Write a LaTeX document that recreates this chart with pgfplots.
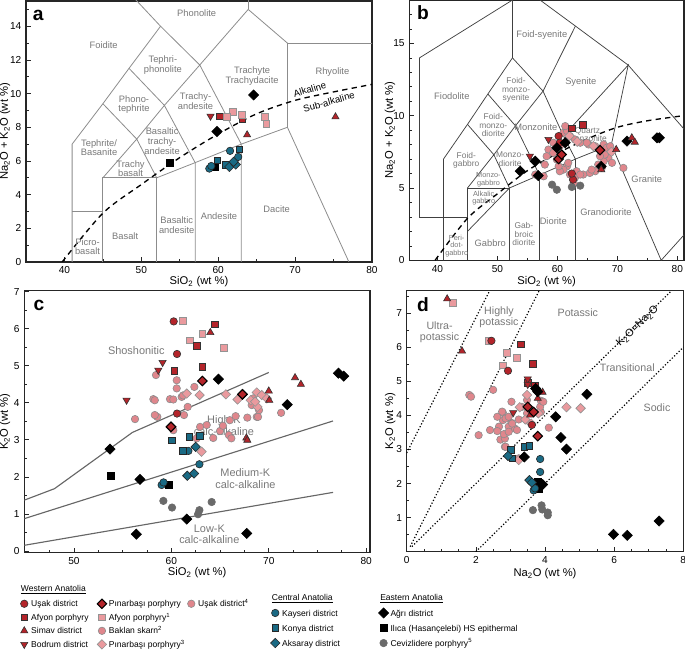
\documentclass[border=0pt]{standalone}
\usepackage{fontspec}
\setmainfont{Liberation Sans}
\usepackage{pgfplots}
\pgfplotsset{compat=1.18}

\definecolor{dred}{RGB}{180,36,42}
\definecolor{pinkc}{RGB}{224,134,140}
\definecolor{pinkl}{RGB}{234,154,158}
\definecolor{tealc}{RGB}{26,106,132}
\definecolor{grayc}{RGB}{106,106,106}
\definecolor{ftxt}{RGB}{120,120,120}

% marker styles (tikz namespace, so legends can use them too)
\tikzset{
  usak/.style={only marks, mark=*, mark size=2.8pt, mark options={solid, line width=0.45pt, draw=black!80, fill=dred}},
  afyon/.style={only marks, mark=square*, mark size=2.5pt, mark options={solid, line width=0.45pt, draw=black!80, fill=dred}},
  simav/.style={only marks, mark=triangle*, mark size=3.1pt, mark options={solid, line width=0.45pt, draw=black!80, fill=dred}},
  bodrum/.style={only marks, mark=triangle*, mark size=3.1pt, mark options={solid, rotate=180, line width=0.45pt, draw=black!80, fill=dred}},
  pinar/.style={only marks, mark=square*, mark size=2.5pt, mark options={solid, rotate=45, line width=0.8pt, draw=black, fill=dred}},
  afyonb/.style={only marks, mark=square*, mark size=2.5pt, mark options={solid, line width=0.45pt, draw=gray!85, fill=pinkl}},
  baklan/.style={only marks, mark=*, mark size=2.8pt, mark options={solid, line width=0.45pt, draw=gray!90, fill=pinkc}},
  pinarb/.style={only marks, mark=square*, mark size=2.5pt, mark options={solid, rotate=45, line width=0.45pt, draw=gray!85, fill=pinkl}},
  usakd/.style={only marks, mark=*, mark size=2.8pt, mark options={solid, line width=0.45pt, draw=gray!90, fill=pinkc}},
  kayseri/.style={only marks, mark=*, mark size=2.8pt, mark options={solid, line width=0.45pt, draw=black!85, fill=tealc}},
  konya/.style={only marks, mark=square*, mark size=2.5pt, mark options={solid, line width=0.45pt, draw=black!85, fill=tealc}},
  aksaray/.style={only marks, mark=square*, mark size=2.5pt, mark options={solid, rotate=45, line width=0.45pt, draw=black!85, fill=tealc}},
  agri/.style={only marks, mark=square*, mark size=2.7pt, mark options={solid, rotate=45, line width=0.45pt, draw=black, fill=black}},
  ilica/.style={only marks, mark=square*, mark size=2.5pt, mark options={solid, line width=0.45pt, draw=black, fill=black}},
  cevi/.style={only marks, mark=*, mark size=2.8pt, mark options={solid, line width=0.45pt, draw=grayc, fill=grayc}},
  fl/.style={font=\fontsize{7}{7.2}\selectfont, text=ftxt, align=center, inner sep=0pt},
  fls/.style={font=\fontsize{6.3}{6.4}\selectfont, text=ftxt, align=center, inner sep=0pt},
  flc/.style={font=\fontsize{8.2}{8.8}\selectfont, text=ftxt, align=center, inner sep=0pt},
  plet/.style={font=\bfseries\fontsize{14.4}{14.4}\selectfont, inner sep=0pt},
}

\pgfplotsset{
  panel/.style={scale only axis, anchor=south west, tick pos=left, tick align=inside,
    axis line style={line width=1.1pt, black!85},
    every tick/.style={black!85, line width=0.5pt},
    major tick length=3.5pt, minor tick length=2pt,
    tick label style={font=\fontsize{7.6}{9}\selectfont},
    every axis x label/.append style={font=\fontsize{8.4}{10}\selectfont},
    every axis y label/.append style={font=\fontsize{8.4}{10}\selectfont},
    /pgf/number format/assume math mode=true},
  fline/.style={no marks, line width=0.6pt, color=black!45},
  bline/.style={no marks, line width=0.55pt, color=black!75},
  cline/.style={no marks, line width=0.85pt, color=black!60},
  dline/.style={no marks, line width=0.9pt, color=black, dash pattern=on 0.9pt off 1.5pt},
  aline/.style={no marks, smooth, line width=1pt, color=black, dash pattern=on 4pt off 3.2pt},
  legax/.style={at={(0pt,0pt)}, anchor=south west, scale only axis, width=513.75pt, height=487.5pt,
    hide axis, xmin=0, xmax=685, ymin=0, ymax=650,
    legend cell align=left,
    legend style={anchor=north west, draw=none, fill=none, inner sep=0pt, outer sep=0pt,
      row sep=0pt, column sep=0pt, font=\fontsize{6.4}{7}\selectfont,
      nodes={inner ysep=0pt, inner xsep=0.5pt, text height=4.6pt, text depth=0pt}}},
  legimg/.style={legend image code/.code={\path (-4.5pt,-#1) (4.5pt,#1); \draw[##1] plot coordinates {(0pt,0pt)};}},
}

\begin{document}
\begin{tikzpicture}
\useasboundingbox (0pt,0pt) rectangle (513.75pt,487.5pt);

% ---------------- panel a: TAS volcanic ----------------
\begin{axis}[panel, at={(19.5pt,291pt)}, width=259.5pt, height=195.75pt,
  xmin=35, xmax=80, ymin=0, ymax=15.5,
  xtick={40,50,...,80}, minor xtick={45,55,65,75},
  ytick={0,2,...,14}, minor ytick={1,3,...,15},
  xlabel={SiO\textsubscript{2} (wt \%)},
  ylabel={Na\textsubscript{2}O + K\textsubscript{2}O (wt \%)},
  xlabel style={at={(axis description cs:0.5,-0.0755)}, anchor=center},
  ylabel style={at={(axis description cs:-0.0607,0.5)}, anchor=center}]
\addplot[fline] coordinates {(41,0) (41,7) (45,9.4) (48.4,11.5) (52.5,14) (48.4,16)};
\addplot[fline] coordinates {(41,3) (45,3)};
\addplot[fline] coordinates {(45,0) (45,5) (52,5) (52,0)};
\addplot[fline] coordinates {(45,5) (49.4,7.3) (52,5)};
\addplot[fline] coordinates {(45,9.4) (49.4,7.3) (53,9.3) (57,5.9) (57,0)};
\addplot[fline] coordinates {(48.4,11.5) (53,9.3) (57.6,11.7) (63,7) (63,0)};
\addplot[fline] coordinates {(52,5) (57,5.9) (63,7) (69,8) (77,0)};
\addplot[fline] coordinates {(52.5,14) (57.6,11.7) (63.9,15) (69,13) (69,8)};
\addplot[fline] coordinates {(63.9,15) (63.9,16)};
\addplot[fline] coordinates {(69,13) (80,13)};
\addplot[aline] coordinates {(39.7,0) (45,2.9) (50,4.6) (55,6.2) (60,7.6) (65,8.8) (70,9.6) (75,10.1) (80,10.55)};

\node[fl] at (axis cs:57.2,14.76) {Phonolite};
\node[fl] at (axis cs:45.1,12.9) {Foidite};
\node[fl] at (axis cs:52.8,11.7) {Tephri-\\phonolite};
\node[fl] at (axis cs:49.05,9.35) {Phono-\\tephrite};
\node[fl] at (axis cs:44.5,6.8) {Tephrite/\\Basanite};
\node[fl] at (axis cs:52.7,7.17) {Basaltic\\trachy-\\andesite};
\node[fl] at (axis cs:57.05,9.55) {Trachy-\\andesite};
\node[fl] at (axis cs:64.4,11.03) {Trachyte\\Trachydacite};
\node[fl] at (axis cs:74.85,11.3) {Rhyolite};
\node[fl] at (axis cs:48.6,5.55) {Trachy\\basalt};
\node[fl] at (axis cs:47.9,1.56) {Basalt};
\node[fl] at (axis cs:54.6,2.2) {Basaltic\\andesite};
\node[fl] at (axis cs:60.1,2.73) {Andesite};
\node[fl] at (axis cs:67.6,3.15) {Dacite};
\node[fl] at (axis cs:43.0,0.9) {Picro-\\basalt};
\node[font=\fontsize{7.2}{8}\selectfont, rotate=16, inner sep=0pt] at (axis cs:71.9,10.25) {Alkaline};
\node[font=\fontsize{7.2}{8}\selectfont, rotate=16, inner sep=0pt] at (axis cs:74.4,9.5) {Sub-alkaline};

\addplot[afyon] coordinates {(60.23,8.66) (63.15,8.52)};
\addplot[afyonb] coordinates {(61.9,8.9) (61.1,8.62) (63.1,8.75) (66.1,8.62) (66.24,8.22)};
\addplot[bodrum] coordinates {(59.0,8.66)};
\addplot[simav] coordinates {(63.76,7.55) (75.25,8.62)};
\addplot[ilica] coordinates {(53.67,5.88) (59.6,5.65)};
\addplot[kayseri] coordinates {(61.54,6.6) (62.6,6.24) (58.84,5.55) (59.1,5.7)};
\addplot[konya] coordinates {(62.75,6.7) (59.9,6.04) (61.0,5.79)};
\addplot[aksaray] coordinates {(61.45,5.65) (62.28,5.79) (62.0,5.95)};
\addplot[agri] coordinates {(64.6,9.92) (59.84,7.75)};
\node[plet] at (rel axis cs:0.035,0.946) {a};
\end{axis}

% ---------------- panel b: TAS plutonic ----------------
\begin{axis}[panel, at={(306.975pt,292.275pt)}, width=206pt, height=195.2pt,
  xmin=35.3, xmax=81.1, ymin=0, ymax=18,
  xtick={40,50,...,80}, minor xtick={45,55,65,75},
  ytick={0,5,10,15}, minor ytick={1,...,18},
  xlabel={SiO\textsubscript{2} (wt \%)},
  ylabel={Na\textsubscript{2}O + K\textsubscript{2}O (wt \%)},
  xlabel style={at={(axis description cs:0.5,-0.082)}, anchor=center},
  ylabel style={at={(axis description cs:-0.070,0.5)}, anchor=center}]
\addplot[bline] coordinates {(37,3) (37,14) (52.5,18)};
\addplot[bline] coordinates {(37,3) (45,3)};
\addplot[bline] coordinates {(41,0) (41,7) (45,9.4) (48.4,11.5) (52.5,14) (52.5,18)};
\addplot[bline] coordinates {(45,0) (45,5) (52,5) (52,0)};
\addplot[bline] coordinates {(45,2) (52,5)};
\addplot[bline] coordinates {(45,5) (49.4,7.3) (52,5)};
\addplot[bline] coordinates {(45,9.4) (49.4,7.3) (53,9.3) (57,5.9) (57,0)};
\addplot[bline] coordinates {(48.4,11.5) (53,9.3) (57.6,11.7) (52.5,14)};
\addplot[bline] coordinates {(57.6,11.7) (63,16.2)};
\addplot[bline] coordinates {(85.9,6.8) (71.8,13.5) (63,16.2) (57.1,18)};
\addplot[bline] coordinates {(57.6,11.7) (61,8.6) (63,7) (63,0)};
\addplot[bline] coordinates {(61,8.6) (71.8,13.5) (69,8)};
\addplot[bline] coordinates {(52,5) (57,5.9) (63,7) (69,8) (77.3,0) (87.5,4.7)};
\addplot[aline] coordinates {(39.6,0) (45,2.9) (50,4.6) (55,6.2) (60,7.4) (65,8.4) (70,9.2) (75,9.65) (81,10.0)};

\node[fl] at (axis cs:57.4,15.58) {Foid-syenite};
\node[fl] at (axis cs:42.4,11.37) {Fiodolite};
\node[fls] at (axis cs:53.1,11.76) {Foid-\\monzo-\\syenite};
\node[fl] at (axis cs:63.9,12.34) {Syenite};
\node[fls] at (axis cs:49.3,9.33) {Foid-\\monzo-\\diorite};
\node[fl] at (axis cs:56.4,9.21) {Monzonite};
\node[fls] at (axis cs:65.0,8.7) {Quartz\\monzonite};
\node[fls] at (axis cs:44.8,6.9) {Foid-\\gabbro};
\node[fls] at (axis cs:52.1,7.01) {Monzo-\\diorite};
\node[font=\fontsize{5.5}{5.8}\selectfont, text=ftxt, align=center, inner sep=0pt] at (axis cs:48.5,5.56) {Monzo-\\gabbro};
\node[font=\fontsize{5.5}{5.8}\selectfont, text=ftxt, align=center, inner sep=0pt] at (axis cs:47.7,4.3) {Alkalic\\gabbro};
\node[font=\fontsize{5.5}{5.8}\selectfont, text=ftxt, align=center, inner sep=0pt] at (axis cs:43.2,1.0) {Peri-\\dot-\\gabbro};
\node[fl] at (axis cs:48.8,1.18) {Gabbro};
\node[fls] at (axis cs:54.4,1.8) {Gab-\\broic\\diorite};
\node[fl] at (axis cs:59.3,2.69) {Diorite};
\node[fl] at (axis cs:68.1,3.31) {Granodiorite};
\node[fl] at (axis cs:74.9,5.58) {Granite};

\addplot[usakd] coordinates {(58.5,7.66) (58.2,7.2) (57.9,6.62) (56.3,5.93) (61.0,8.82) (61.6,8.94)
  (60.4,7.89) (59.3,7.43) (62.1,8.59) (62.9,8.36) (63.8,8.13) (65.2,8.01) (66.3,7.89) (67.7,8.01)
  (68.2,7.78) (68.8,7.43) (68.5,7.08) (67.7,6.85) (66.8,6.62) (67.4,6.39) (66.3,6.16) (65.4,6.04)
  (64.3,5.93) (63.2,6.16) (62.9,5.69) (62.7,5.35) (61.6,6.5) (61.0,6.27) (60.4,6.16) (60.2,6.5)
  (61.8,6.74) (62.1,5.93) (63.8,5.93) (65.7,6.27) (69.1,6.74) (71.0,6.39) (67.9,7.31) (67.1,7.2)
  (68.8,7.89) (64.9,8.13) (59.3,8.13) (61.3,9.28) (57.7,5.81) (59.9,6.97)};
\addplot[pinarb] coordinates {(62.0,8.6) (63.3,8.2) (66.0,7.9) (69.0,7.5)};
\addplot[cevi] coordinates {(59.1,5.23) (59.9,4.88) (62.4,5.07) (63.8,5.16)};
\addplot[usak] coordinates {(60.2,8.59) (60.4,8.13) (62.6,5.58) (62.4,6.0)};
\addplot[afyon] coordinates {(62.4,9.12) (64.2,9.35)};
\addplot[bodrum] coordinates {(58.5,8.36) (55.4,7.2)};
\addplot[agri] coordinates {(56.3,6.85) (59.9,7.78) (61.3,8.13) (56.8,5.86) (53.8,6.16) (71.6,8.24) (76.6,8.47) (77.0,8.47) (67.3,6.5)};
\addplot[pinar] coordinates {(60.2,7.01) (67.1,7.62) (60.7,7.31)};
\addplot[simav] coordinates {(72.4,8.47) (72.9,8.17) (69.8,7.66) (67.3,6.27)};
\node[plet] at (rel axis cs:0.05,0.95) {b};
\end{axis}

% ---------------- panel c: K2O vs SiO2 ----------------
\begin{axis}[panel, at={(18.225pt,72.975pt)}, width=259.3pt, height=196.5pt,
  xmin=44.9, xmax=80.4, ymin=-0.05, ymax=7.03,
  xtick={50,60,70,80}, minor xtick={47.5,52.5,55,57.5,62.5,65,67.5,72.5,75,77.5},
  ytick={0,...,7}, minor ytick={0.5,1.5,...,6.5},
  xlabel={SiO\textsubscript{2} (wt \%)},
  ylabel={K\textsubscript{2}O (wt \%)},
  xlabel style={at={(axis description cs:0.5,-0.075)}, anchor=center},
  ylabel style={at={(axis description cs:-0.056,0.5)}, anchor=center}]
\addplot[cline] coordinates {(44.9,1.37) (48,1.68) (56,3.2) (70,4.82)};
\addplot[cline] coordinates {(44.9,0.87) (76.6,3.51)};
\addplot[cline] coordinates {(44.9,0.15) (76.6,1.58)};
\node[flc] at (axis cs:56.4,5.42) {Shoshonitic};
\node[flc] at (axis cs:65.4,3.38) {High-K\\calc-alkaline};
\node[flc] at (axis cs:67.6,1.95) {Medium-K\\calc-alkaline};
\node[flc] at (axis cs:63.9,0.45) {Low-K\\calc-alkaline};

\addplot[usakd] coordinates {(58.42,4.75) (60.55,4.61) (60.55,4.39) (58.15,4.1) (59.86,4.1) (61.06,4.16)
  (62.36,4.43) (56.27,3.56) (58.56,3.62) (61.68,3.89) (61.3,3.67) (62.95,3.35) (65.0,3.24) (64.3,3.05)
  (66.0,3.53) (65.3,3.38) (65.9,3.13) (66.16,3.04) (66.6,3.64) (67.8,3.6) (68.25,3.94) (68.77,3.62)
  (69.0,3.8) (68.4,4.12) (71.27,3.73) (63.63,3.4) (60.2,4.09) (61.2,4.2) (58.3,3.67) (58.3,4.07)
  (60.2,3.26) (68.9,3.62) (62.6,3.04)};
\addplot[pinarb] coordinates {(61.58,4.25) (62.9,4.21) (65.6,4.23) (66.8,4.09) (68.77,4.28) (69.28,4.21)
  (69.8,4.12) (68.84,3.89) (63.1,2.68) (68.15,4.07) (68.6,4.03)};
\addplot[afyonb] coordinates {(61.16,6.22) (61.9,5.69) (63.18,5.87) (65.4,5.49)};
\addplot[cevi] coordinates {(59.18,1.35) (60.07,1.17) (62.88,1.1) (62.74,0.99) (64.14,1.32)};
\addplot[ilica] coordinates {(53.8,2.02) (59.76,1.78)};
\addplot[kayseri] coordinates {(59.0,1.78) (59.2,1.85) (62.88,2.34) (61.75,2.7)};
\addplot[konya] coordinates {(60.03,2.99) (61.85,3.08) (62.95,3.1) (61.16,2.7)};
\addplot[aksaray] coordinates {(62.5,2.81) (61.64,2.03) (62.33,2.09)};
\addplot[usak] coordinates {(60.24,6.2) (60.58,5.32) (60.58,3.71)};
\addplot[afyon] coordinates {(64.49,6.12) (62.6,5.54) (60.3,4.86) (63.18,4.97)};
\addplot[simav] coordinates {(64.0,5.9) (72.7,4.68) (73.3,4.5) (70.0,4.32) (70.05,4.07) (67.7,3.05) (67.8,2.99)};
\addplot[bodrum] coordinates {(59.1,5.09) (58.66,4.88) (55.4,4.07)};
\addplot[agri] coordinates {(53.7,2.75) (56.78,1.93) (64.83,4.64) (67.3,4.23) (59.97,3.35) (71.9,3.95)
  (61.58,0.86) (56.4,0.45) (67.74,0.47) (77.16,4.8) (77.7,4.72)};
\addplot[pinar] coordinates {(63.18,4.59) (67.3,4.23) (59.97,3.35)};
\node[plet] at (rel axis cs:0.0425,0.942) {c};
\end{axis}

% ---------------- panel d: K2O vs Na2O ----------------
\begin{axis}[panel, at={(305.025pt,73.725pt)}, width=207.45pt, height=195.75pt,
  xmin=0, xmax=8, ymin=0, ymax=7.66,
  xtick={0,2,...,8}, minor xtick={0.5,1,...,7.5},
  ytick={1,...,7}, minor ytick={0.5,1,...,7.5},
  xlabel={Na\textsubscript{2}O (wt \%)},
  ylabel={K\textsubscript{2}O (wt \%)},
  xlabel style={at={(axis description cs:0.5,-0.083)}, anchor=center},
  ylabel style={at={(axis description cs:-0.060,0.5)}, anchor=center}]
\addplot[dline] coordinates {(0,2.9) (2.4,7.66)};
\addplot[dline] coordinates {(0.1,0.15) (3.83,7.66)};
\addplot[dline] coordinates {(0.15,0.15) (7.66,7.66)};
\addplot[dline] coordinates {(2,0) (8,6)};
\node[flc, font=\fontsize{8}{8.3}\selectfont] at (axis cs:0.95,6.45) {Ultra-\\potassic};
\node[flc, font=\fontsize{8}{8.3}\selectfont] at (axis cs:2.67,6.88) {Highly\\potassic};
\node[flc, font=\fontsize{8}{8.3}\selectfont] at (axis cs:4.95,7.02) {Potassic};
\node[flc, font=\fontsize{8}{8.3}\selectfont] at (axis cs:6.38,5.41) {Transitional};
\node[flc, font=\fontsize{8}{8.3}\selectfont] at (axis cs:7.24,4.24) {Sodic};
\node[font=\fontsize{8}{9}\selectfont, rotate=44, inner sep=0pt] at (axis cs:6.68,6.62) {K\textsubscript{2}O=Na\textsubscript{2}O};

\addplot[usakd] coordinates {(1.81,4.6) (1.86,4.55) (2.5,4.75) (2.08,3.42) (2.41,3.57) (2.67,3.67)
  (2.62,3.54) (2.78,4.08) (2.78,3.86) (2.86,3.91) (3.03,4.4) (2.71,3.29) (2.84,3.08) (3.03,3.78)
  (3.12,3.62) (2.95,3.67) (2.84,3.32) (3.24,3.88) (3.48,4.45) (3.88,4.43) (4.11,3.64) (3.88,4.1)
  (2.81,3.45) (2.62,3.96) (2.76,4.11) (3.05,3.76) (3.19,3.57) (2.95,3.52) (2.86,3.08) (3.24,2.74)
  (3.86,4.25) (3.95,4.4) (3.33,4.25) (3.48,4.06) (2.95,3.96)};
\addplot[pinarb] coordinates {(3.48,4.6) (3.27,4.24) (3.43,3.88) (4.62,4.24) (5.03,4.21) (3.24,2.69)
  (3.81,4.06) (3.6,3.76)};
\addplot[afyonb] coordinates {(1.33,7.31) (2.38,6.19) (2.89,5.84) (2.78,5.47) (3.19,5.70)};
\addplot[cevi] coordinates {(3.65,1.22) (3.9,1.36) (3.92,1.24) (4.08,1.15) (4.08,1.07)};
\addplot[ilica] coordinates {(3.79,2.07) (3.83,1.85) (3.86,1.95)};
\addplot[kayseri] coordinates {(3.86,2.72) (3.86,2.34) (3.67,1.8) (3.71,1.86)};
\addplot[konya] coordinates {(3.02,3.0) (3.4,3.08) (3.55,3.11) (3.05,2.74)};
\addplot[aksaray] coordinates {(2.93,2.81) (3.55,2.1) (3.62,2.03)};
\addplot[usak] coordinates {(2.45,6.19) (2.93,5.31) (3.62,3.72)};
\addplot[afyon] coordinates {(3.3,6.09) (3.64,5.51) (3.5,4.96) (3.71,4.86)};
\addplot[bodrum] coordinates {(3.5,5.07) (3.5,4.91) (3.08,4.08)};
\addplot[simav] coordinates {(1.17,7.42) (1.6,5.89) (3.93,4.68) (3.79,4.5) (3.57,4.01)};
\addplot[pinar] coordinates {(3.5,4.25) (3.79,3.39) (3.67,4.1)};
\addplot[agri] coordinates {(3.73,4.79) (3.79,4.7) (5.21,4.62) (4.31,3.96) (4.46,3.35) (4.62,3.01)
  (3.4,2.78) (5.98,0.51) (6.38,0.48) (7.3,0.9) (3.93,1.97)};
\node[plet] at (rel axis cs:0.059,0.945) {d};
\end{axis}

% ---------------- legend ----------------
\node[anchor=west, inner sep=0pt, font=\fontsize{6.4}{7}\selectfont] at (15.525pt,45pt) {\underline{Western Anatolia}};
\node[anchor=west, inner sep=0pt, font=\fontsize{6.4}{7}\selectfont] at (203.775pt,38.775pt) {\underline{Central Anatolia}};
\node[anchor=west, inner sep=0pt, font=\fontsize{6.4}{7}\selectfont] at (285pt,38.775pt) {\underline{Eastern Anatolia}};

\begin{axis}[legax, legimg=4.875pt, legend style={at={(axis cs:18,53)}}]
\addlegendimage{usak}\addlegendentry{Uşak district}
\addlegendimage{afyon}\addlegendentry{Afyon porphyry}
\addlegendimage{simav}\addlegendentry{Simav district}
\addlegendimage{bodrum}\addlegendentry{Bodrum district}
\end{axis}
\begin{axis}[legax, legimg=4.875pt, legend style={at={(axis cs:95.7,53)}}]
\addlegendimage{pinar}\addlegendentry{Pınarbaşı porphyry}
\addlegendimage{afyonb}\addlegendentry{Afyon porphyry\textsuperscript{1}}
\addlegendimage{baklan}\addlegendentry{Baklan skarn\textsuperscript{2}}
\addlegendimage{pinarb}\addlegendentry{Pınarbaşı porphyry\textsuperscript{3}}
\end{axis}
\begin{axis}[legax, legimg=4.875pt, legend style={at={(axis cs:185,53)}}]
\addlegendimage{usakd}\addlegendentry{Uşak district\textsuperscript{4}}
\end{axis}
\begin{axis}[legax, legimg=5.44pt, legend style={at={(axis cs:269,44.55)}}]
\addlegendimage{kayseri}\addlegendentry{Kayseri district}
\addlegendimage{konya}\addlegendentry{Konya district}
\addlegendimage{aksaray}\addlegendentry{Aksaray district}
\end{axis}
\begin{axis}[legax, legimg=5.44pt, legend style={at={(axis cs:377.3,44.55)}}]
\addlegendimage{agri}\addlegendentry{Ağrı district}
\addlegendimage{ilica}\addlegendentry{Ilıca (Hasançelebi) HS epithermal}
\addlegendimage{cevi}\addlegendentry{Cevizlidere porphyry\textsuperscript{5}}
\end{axis}
\end{tikzpicture}
\end{document}
